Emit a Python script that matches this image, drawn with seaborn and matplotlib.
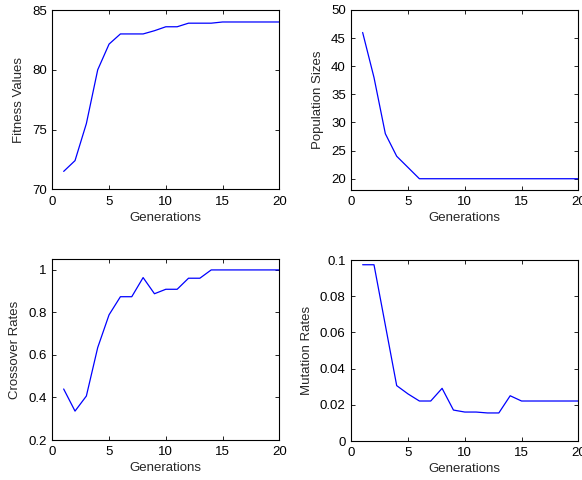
import matplotlib
matplotlib.use("Agg")
import matplotlib.pyplot as plt
import seaborn as sns
import pandas as pd
from matplotlib.ticker import FuncFormatter

generations = list(range(1, 21))
fitness_values = [71.5, 72.4, 75.5, 80.0, 82.15, 83.0, 83.0, 83.0, 83.27, 83.6,
                  83.6, 83.9, 83.9, 83.9, 84.0, 84.0, 84.0, 84.0, 84.0, 84.0]
population_sizes = [46, 38, 28, 24, 22, 20, 20, 20, 20, 20,
                    20, 20, 20, 20, 20, 20, 20, 20, 20, 20]
crossover_rates = [0.44, 0.336, 0.407, 0.635, 0.789, 0.874, 0.874, 0.964, 0.888, 0.909,
                   0.909, 0.961, 0.961, 1.0, 1.0, 1.0, 1.0, 1.0, 1.0, 1.0]
mutation_rates = [0.0974, 0.0974, 0.064, 0.0306, 0.026, 0.0221, 0.0221, 0.0291, 0.0171, 0.016,
                  0.016, 0.0155, 0.0155, 0.025, 0.0221, 0.0221, 0.0221, 0.0221, 0.0221, 0.0221]

sns.set_style("white")
plt.rcParams['font.family'] = ['Liberation Sans', 'DejaVu Sans']
plt.rcParams['font.size'] = 9.5

fig = plt.figure(figsize=(5.82, 4.8), dpi=100)

panels = [
    (fitness_values, "Fitness Values", [0.0899, 0.6056, 0.390, 0.3735], (70, 85), [70, 75, 80, 85]),
    (population_sizes, "Population Sizes", [0.6036, 0.6042, 0.390, 0.3750], (18, 50), [20, 25, 30, 35, 40, 45, 50]),
    (crossover_rates, "Crossover Rates", [0.0899, 0.0833, 0.390, 0.3765], (0.2, 1.05), [0.2, 0.4, 0.6, 0.8, 1.0]),
    (mutation_rates, "Mutation Rates", [0.6036, 0.08125, 0.390, 0.377], (0, 0.1), [0, 0.02, 0.04, 0.06, 0.08, 0.1]),
]

for values, label, pos, ylim, yticks in panels:
    ax = fig.add_axes(pos)
    df = pd.DataFrame({"Generations": generations, label: values})
    sns.lineplot(data=df, x="Generations", y=label, ax=ax, color="#0000ff", linewidth=0.9)
    ax.set_xlim(0, 20)
    ax.set_ylim(*ylim)
    ax.set_xticks([0, 5, 10, 15, 20])
    ax.set_yticks(yticks)
    ax.yaxis.set_major_formatter(FuncFormatter(lambda v, p: "%g" % round(v, 6)))
    ax.tick_params(direction="in", length=3, width=0.6, top=True, right=True,
                   bottom=True, left=True, labelsize=9.5, colors="black")
    ax.tick_params(axis="x", pad=4.5)
    ax.tick_params(axis="y", pad=4)
    for s in ax.spines.values():
        s.set_color("black")
        s.set_linewidth(0.8)
    ax.set_xlabel("Generations", fontsize=9.5, labelpad=3)
    ax.set_ylabel(label, fontsize=9.5, labelpad=5)

fig.savefig("out.png", dpi=100)
